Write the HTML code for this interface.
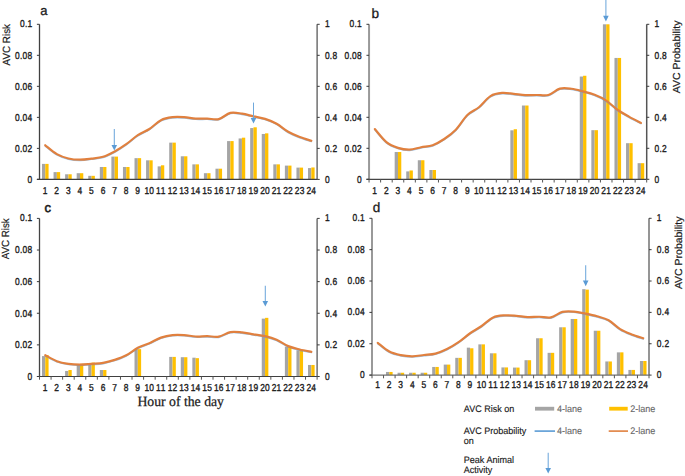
<!DOCTYPE html>
<html><head><meta charset="utf-8"><style>
html,body{margin:0;padding:0;background:#fff;}
body{width:685px;height:476px;overflow:hidden;}
svg{display:block;font-family:"Liberation Sans", sans-serif;text-rendering:geometricPrecision;}
.t{font-size:10.0px;fill:#1a1a1a;stroke:#1a1a1a;stroke-width:0.35px;letter-spacing:0.35px;}
.lg{font-size:9.5px;fill:#1a1a1a;stroke:#1a1a1a;stroke-width:0.15px;}
.lg2{font-size:9.5px;fill:#666;stroke:#666;stroke-width:0.1px;}
</style></head><body>
<svg width="685" height="476" viewBox="0 0 685 476">
<rect width="685" height="476" fill="#fff"/>
<rect x="41.98" y="163.89" width="3.3" height="15.51" fill="#a5a5a5"/>
<rect x="45.28" y="163.89" width="3.3" height="15.51" fill="#ffc000"/>
<rect x="53.55" y="172.11" width="3.3" height="7.29" fill="#a5a5a5"/>
<rect x="56.85" y="172.11" width="3.3" height="7.29" fill="#ffc000"/>
<rect x="65.11" y="174.28" width="3.3" height="5.12" fill="#a5a5a5"/>
<rect x="68.42" y="174.28" width="3.3" height="5.12" fill="#ffc000"/>
<rect x="76.68" y="173.2" width="3.3" height="6.2" fill="#a5a5a5"/>
<rect x="79.98" y="173.2" width="3.3" height="6.2" fill="#ffc000"/>
<rect x="88.25" y="175.83" width="3.3" height="3.57" fill="#a5a5a5"/>
<rect x="91.55" y="175.83" width="3.3" height="3.57" fill="#ffc000"/>
<rect x="99.81" y="166.99" width="3.3" height="12.41" fill="#a5a5a5"/>
<rect x="103.12" y="166.99" width="3.3" height="12.41" fill="#ffc000"/>
<rect x="111.38" y="156.6" width="3.3" height="22.8" fill="#a5a5a5"/>
<rect x="114.68" y="156.6" width="3.3" height="22.8" fill="#ffc000"/>
<rect x="122.95" y="166.99" width="3.3" height="12.41" fill="#a5a5a5"/>
<rect x="126.25" y="166.99" width="3.3" height="12.41" fill="#ffc000"/>
<rect x="134.51" y="158.15" width="3.3" height="21.25" fill="#a5a5a5"/>
<rect x="137.82" y="158.15" width="3.3" height="21.25" fill="#ffc000"/>
<rect x="146.08" y="160.32" width="3.3" height="19.08" fill="#a5a5a5"/>
<rect x="149.38" y="160.32" width="3.3" height="19.08" fill="#ffc000"/>
<rect x="157.65" y="166.37" width="3.3" height="13.03" fill="#a5a5a5"/>
<rect x="160.95" y="165.29" width="3.3" height="14.11" fill="#ffc000"/>
<rect x="169.21" y="142.64" width="3.3" height="36.76" fill="#a5a5a5"/>
<rect x="172.52" y="142.64" width="3.3" height="36.76" fill="#ffc000"/>
<rect x="180.78" y="156.29" width="3.3" height="23.11" fill="#a5a5a5"/>
<rect x="184.08" y="156.29" width="3.3" height="23.11" fill="#ffc000"/>
<rect x="192.35" y="164.36" width="3.3" height="15.04" fill="#a5a5a5"/>
<rect x="195.65" y="164.36" width="3.3" height="15.04" fill="#ffc000"/>
<rect x="203.91" y="173.2" width="3.3" height="6.2" fill="#a5a5a5"/>
<rect x="207.22" y="173.2" width="3.3" height="6.2" fill="#ffc000"/>
<rect x="215.48" y="168.7" width="3.3" height="10.7" fill="#a5a5a5"/>
<rect x="218.78" y="168.7" width="3.3" height="10.7" fill="#ffc000"/>
<rect x="227.05" y="141.09" width="3.3" height="38.31" fill="#a5a5a5"/>
<rect x="230.35" y="141.09" width="3.3" height="38.31" fill="#ffc000"/>
<rect x="238.61" y="138.45" width="3.3" height="40.95" fill="#a5a5a5"/>
<rect x="241.92" y="137.68" width="3.3" height="41.72" fill="#ffc000"/>
<rect x="250.18" y="128.06" width="3.3" height="51.34" fill="#a5a5a5"/>
<rect x="253.48" y="127.29" width="3.3" height="52.11" fill="#ffc000"/>
<rect x="261.75" y="133.96" width="3.3" height="45.44" fill="#a5a5a5"/>
<rect x="265.05" y="133.34" width="3.3" height="46.06" fill="#ffc000"/>
<rect x="273.31" y="164.36" width="3.3" height="15.04" fill="#a5a5a5"/>
<rect x="276.62" y="164.36" width="3.3" height="15.04" fill="#ffc000"/>
<rect x="284.88" y="165.6" width="3.3" height="13.8" fill="#a5a5a5"/>
<rect x="288.18" y="165.6" width="3.3" height="13.8" fill="#ffc000"/>
<rect x="296.45" y="167.61" width="3.3" height="11.79" fill="#a5a5a5"/>
<rect x="299.75" y="167.61" width="3.3" height="11.79" fill="#ffc000"/>
<rect x="308.01" y="168.08" width="3.3" height="11.32" fill="#a5a5a5"/>
<rect x="311.32" y="167.46" width="3.3" height="11.94" fill="#ffc000"/>
<path d="M45.28,145.98 C47.21,147.45 52.99,152.62 56.85,154.82 C60.71,157.02 64.56,158.23 68.42,159.16 C72.27,160.09 76.13,160.38 79.98,160.4 C83.84,160.43 87.69,159.81 91.55,159.32 C95.41,158.83 99.26,158.64 103.12,157.46 C106.97,156.27 110.83,154.28 114.68,152.18 C118.54,150.09 122.39,147.61 126.25,144.89 C130.11,142.18 133.96,138.43 137.82,135.9 C141.67,133.36 145.53,132.2 149.38,129.69 C153.24,127.19 157.09,122.82 160.95,120.85 C164.81,118.89 168.66,118.4 172.52,117.9 C176.37,117.41 180.23,117.67 184.08,117.9 C187.94,118.14 191.79,119.07 195.65,119.3 C199.51,119.53 203.36,119.22 207.22,119.3 C211.07,119.38 214.93,120.72 218.78,119.77 C222.64,118.81 226.49,114.47 230.35,113.56 C234.21,112.66 238.06,113.77 241.92,114.34 C245.77,114.91 249.63,116.1 253.48,116.97 C257.34,117.85 261.19,118.37 265.05,119.61 C268.91,120.85 272.76,122.27 276.62,124.42 C280.47,126.56 284.33,130.26 288.18,132.48 C292.04,134.71 295.89,136.26 299.75,137.76 C303.61,139.26 309.39,140.86 311.32,141.48" fill="none" stroke="#5b9bd5" stroke-width="1.6" stroke-linecap="round" opacity="0.6"/>
<path d="M45.28,145.28 C47.21,146.75 52.99,151.92 56.85,154.12 C60.71,156.32 64.56,157.53 68.42,158.46 C72.27,159.39 76.13,159.68 79.98,159.7 C83.84,159.73 87.69,159.11 91.55,158.62 C95.41,158.13 99.26,157.94 103.12,156.76 C106.97,155.57 110.83,153.58 114.68,151.48 C118.54,149.39 122.39,146.91 126.25,144.19 C130.11,141.48 133.96,137.73 137.82,135.2 C141.67,132.66 145.53,131.5 149.38,128.99 C153.24,126.49 157.09,122.12 160.95,120.15 C164.81,118.19 168.66,117.7 172.52,117.2 C176.37,116.71 180.23,116.97 184.08,117.2 C187.94,117.44 191.79,118.37 195.65,118.6 C199.51,118.83 203.36,118.52 207.22,118.6 C211.07,118.68 214.93,120.02 218.78,119.07 C222.64,118.11 226.49,113.77 230.35,112.86 C234.21,111.96 238.06,113.07 241.92,113.64 C245.77,114.21 249.63,115.4 253.48,116.27 C257.34,117.15 261.19,117.67 265.05,118.91 C268.91,120.15 272.76,121.57 276.62,123.72 C280.47,125.86 284.33,129.56 288.18,131.78 C292.04,134.01 295.89,135.56 299.75,137.06 C303.61,138.56 309.39,140.16 311.32,140.78" fill="none" stroke="#e0803f" stroke-width="2.2" stroke-linecap="round"/>
<line x1="39.5" y1="24.3" x2="39.5" y2="179.4" stroke="#404040" stroke-width="1.3"/>
<line x1="317.1" y1="24.3" x2="317.1" y2="179.4" stroke="#5a5a5a" stroke-width="1.3"/>
<line x1="36.9" y1="179.4" x2="317.1" y2="179.4" stroke="#404040" stroke-width="1.2"/>
<line x1="36.9" y1="179.4" x2="39.5" y2="179.4" stroke="#3a3a3a" stroke-width="1"/>
<line x1="317.1" y1="179.4" x2="319.7" y2="179.4" stroke="#3a3a3a" stroke-width="1"/>
<text transform="translate(32.5,182.8) scale(0.84,1)" text-anchor="end" class="t">0</text>
<text transform="translate(324.9,182.8) scale(0.84,1)" class="t">0</text>
<line x1="36.9" y1="148.38" x2="39.5" y2="148.38" stroke="#3a3a3a" stroke-width="1"/>
<line x1="317.1" y1="148.38" x2="319.7" y2="148.38" stroke="#3a3a3a" stroke-width="1"/>
<text transform="translate(32.5,151.78) scale(0.84,1)" text-anchor="end" class="t">0.02</text>
<text transform="translate(324.9,151.78) scale(0.84,1)" class="t">0.2</text>
<line x1="36.9" y1="117.36" x2="39.5" y2="117.36" stroke="#3a3a3a" stroke-width="1"/>
<line x1="317.1" y1="117.36" x2="319.7" y2="117.36" stroke="#3a3a3a" stroke-width="1"/>
<text transform="translate(32.5,120.76) scale(0.84,1)" text-anchor="end" class="t">0.04</text>
<text transform="translate(324.9,120.76) scale(0.84,1)" class="t">0.4</text>
<line x1="36.9" y1="86.34" x2="39.5" y2="86.34" stroke="#3a3a3a" stroke-width="1"/>
<line x1="317.1" y1="86.34" x2="319.7" y2="86.34" stroke="#3a3a3a" stroke-width="1"/>
<text transform="translate(32.5,89.74) scale(0.84,1)" text-anchor="end" class="t">0.06</text>
<text transform="translate(324.9,89.74) scale(0.84,1)" class="t">0.6</text>
<line x1="36.9" y1="55.32" x2="39.5" y2="55.32" stroke="#3a3a3a" stroke-width="1"/>
<line x1="317.1" y1="55.32" x2="319.7" y2="55.32" stroke="#3a3a3a" stroke-width="1"/>
<text transform="translate(32.5,58.72) scale(0.84,1)" text-anchor="end" class="t">0.08</text>
<text transform="translate(324.9,58.72) scale(0.84,1)" class="t">0.8</text>
<line x1="36.9" y1="24.3" x2="39.5" y2="24.3" stroke="#3a3a3a" stroke-width="1"/>
<line x1="317.1" y1="24.3" x2="319.7" y2="24.3" stroke="#3a3a3a" stroke-width="1"/>
<text transform="translate(32.5,27.2) scale(0.84,1)" text-anchor="end" class="t">0.1</text>
<text transform="translate(324.9,27.2) scale(0.84,1)" class="t">1</text>
<text transform="translate(45.28,193.9) scale(0.84,1)" text-anchor="middle" class="t">1</text>
<text transform="translate(56.85,193.9) scale(0.84,1)" text-anchor="middle" class="t">2</text>
<text transform="translate(68.42,193.9) scale(0.84,1)" text-anchor="middle" class="t">3</text>
<text transform="translate(79.98,193.9) scale(0.84,1)" text-anchor="middle" class="t">4</text>
<text transform="translate(91.55,193.9) scale(0.84,1)" text-anchor="middle" class="t">5</text>
<text transform="translate(103.12,193.9) scale(0.84,1)" text-anchor="middle" class="t">6</text>
<text transform="translate(114.68,193.9) scale(0.84,1)" text-anchor="middle" class="t">7</text>
<text transform="translate(126.25,193.9) scale(0.84,1)" text-anchor="middle" class="t">8</text>
<text transform="translate(137.82,193.9) scale(0.84,1)" text-anchor="middle" class="t">9</text>
<text transform="translate(146.98,193.9) scale(0.84,1)" text-anchor="middle" class="t">1</text>
<text transform="translate(151.78,193.9) scale(0.84,1)" text-anchor="middle" class="t">0</text>
<text transform="translate(158.55,193.9) scale(0.84,1)" text-anchor="middle" class="t">1</text>
<text transform="translate(163.35,193.9) scale(0.84,1)" text-anchor="middle" class="t">1</text>
<text transform="translate(170.12,193.9) scale(0.84,1)" text-anchor="middle" class="t">1</text>
<text transform="translate(174.92,193.9) scale(0.84,1)" text-anchor="middle" class="t">2</text>
<text transform="translate(181.68,193.9) scale(0.84,1)" text-anchor="middle" class="t">1</text>
<text transform="translate(186.48,193.9) scale(0.84,1)" text-anchor="middle" class="t">3</text>
<text transform="translate(193.25,193.9) scale(0.84,1)" text-anchor="middle" class="t">1</text>
<text transform="translate(198.05,193.9) scale(0.84,1)" text-anchor="middle" class="t">4</text>
<text transform="translate(204.82,193.9) scale(0.84,1)" text-anchor="middle" class="t">1</text>
<text transform="translate(209.62,193.9) scale(0.84,1)" text-anchor="middle" class="t">5</text>
<text transform="translate(216.38,193.9) scale(0.84,1)" text-anchor="middle" class="t">1</text>
<text transform="translate(221.18,193.9) scale(0.84,1)" text-anchor="middle" class="t">6</text>
<text transform="translate(227.95,193.9) scale(0.84,1)" text-anchor="middle" class="t">1</text>
<text transform="translate(232.75,193.9) scale(0.84,1)" text-anchor="middle" class="t">7</text>
<text transform="translate(239.52,193.9) scale(0.84,1)" text-anchor="middle" class="t">1</text>
<text transform="translate(244.32,193.9) scale(0.84,1)" text-anchor="middle" class="t">8</text>
<text transform="translate(251.08,193.9) scale(0.84,1)" text-anchor="middle" class="t">1</text>
<text transform="translate(255.88,193.9) scale(0.84,1)" text-anchor="middle" class="t">9</text>
<text transform="translate(262.65,193.9) scale(0.84,1)" text-anchor="middle" class="t">2</text>
<text transform="translate(267.45,193.9) scale(0.84,1)" text-anchor="middle" class="t">0</text>
<text transform="translate(274.22,193.9) scale(0.84,1)" text-anchor="middle" class="t">2</text>
<text transform="translate(279.02,193.9) scale(0.84,1)" text-anchor="middle" class="t">1</text>
<text transform="translate(285.78,193.9) scale(0.84,1)" text-anchor="middle" class="t">2</text>
<text transform="translate(290.58,193.9) scale(0.84,1)" text-anchor="middle" class="t">2</text>
<text transform="translate(297.35,193.9) scale(0.84,1)" text-anchor="middle" class="t">2</text>
<text transform="translate(302.15,193.9) scale(0.84,1)" text-anchor="middle" class="t">3</text>
<text transform="translate(308.92,193.9) scale(0.84,1)" text-anchor="middle" class="t">2</text>
<text transform="translate(313.72,193.9) scale(0.84,1)" text-anchor="middle" class="t">4</text>
<line x1="114.3" y1="129" x2="114.3" y2="145.5" stroke="#6fa8dc" stroke-width="1.05"/><path d="M111.5,145 L117.1,145 L114.3,150.6 Z" fill="#5b9bd5"/>
<line x1="253.5" y1="102.6" x2="253.5" y2="118.5" stroke="#6fa8dc" stroke-width="1.05"/><path d="M250.7,118 L256.3,118 L253.5,123.6 Z" fill="#5b9bd5"/>
<rect x="394.67" y="152.02" width="3.31" height="27.28" fill="#a5a5a5"/>
<rect x="397.97" y="152.02" width="3.31" height="27.28" fill="#ffc000"/>
<rect x="406.24" y="171.4" width="3.31" height="7.91" fill="#a5a5a5"/>
<rect x="409.54" y="170.47" width="3.31" height="8.84" fill="#ffc000"/>
<rect x="417.8" y="160.24" width="3.31" height="19.07" fill="#a5a5a5"/>
<rect x="421.11" y="160.24" width="3.31" height="19.07" fill="#ffc000"/>
<rect x="429.37" y="170" width="3.31" height="9.3" fill="#a5a5a5"/>
<rect x="432.68" y="170" width="3.31" height="9.3" fill="#ffc000"/>
<rect x="510.35" y="130.32" width="3.31" height="48.98" fill="#a5a5a5"/>
<rect x="513.66" y="129.24" width="3.31" height="50.07" fill="#ffc000"/>
<rect x="521.92" y="105.52" width="3.31" height="73.78" fill="#a5a5a5"/>
<rect x="525.23" y="105.52" width="3.31" height="73.78" fill="#ffc000"/>
<rect x="579.77" y="76.54" width="3.31" height="102.77" fill="#a5a5a5"/>
<rect x="583.07" y="75.76" width="3.31" height="103.54" fill="#ffc000"/>
<rect x="591.34" y="130.17" width="3.31" height="49.13" fill="#a5a5a5"/>
<rect x="594.64" y="130.17" width="3.31" height="49.13" fill="#ffc000"/>
<rect x="602.9" y="24.3" width="3.31" height="155" fill="#a5a5a5"/>
<rect x="606.21" y="24.3" width="3.31" height="155" fill="#ffc000"/>
<rect x="614.47" y="57.94" width="3.31" height="121.36" fill="#a5a5a5"/>
<rect x="617.78" y="57.94" width="3.31" height="121.36" fill="#ffc000"/>
<rect x="626.04" y="143.19" width="3.31" height="36.12" fill="#a5a5a5"/>
<rect x="629.35" y="143.19" width="3.31" height="36.12" fill="#ffc000"/>
<rect x="637.61" y="163.18" width="3.31" height="16.12" fill="#a5a5a5"/>
<rect x="640.92" y="163.18" width="3.31" height="16.12" fill="#ffc000"/>
<path d="M374.83,129.78 C376.76,131.95 382.55,139.67 386.4,142.8 C390.26,145.93 394.12,147.27 397.97,148.53 C401.83,149.8 405.68,150.5 409.54,150.4 C413.4,150.29 417.25,148.66 421.11,147.91 C424.97,147.17 428.82,147.27 432.68,145.9 C436.53,144.53 440.39,142.28 444.25,139.7 C448.1,137.12 451.96,134.4 455.82,130.4 C459.67,126.4 463.53,119.42 467.38,115.68 C471.24,111.93 475.1,111.08 478.95,107.93 C482.81,104.77 486.67,99.14 490.52,96.77 C494.38,94.39 498.23,94.03 502.09,93.67 C505.95,93.3 509.8,94.23 513.66,94.6 C517.52,94.96 521.37,95.65 525.23,95.84 C529.08,96.02 532.94,95.71 536.8,95.68 C540.65,95.65 544.51,96.74 548.37,95.68 C552.22,94.62 556.08,90.36 559.93,89.33 C563.79,88.29 567.65,89.02 571.5,89.48 C575.36,89.95 579.22,91.11 583.07,92.12 C586.93,93.12 590.78,94 594.64,95.53 C598.5,97.05 602.35,98.73 606.21,101.26 C610.07,103.79 613.92,108 617.78,110.72 C621.63,113.43 625.49,115.39 629.35,117.54 C633.2,119.68 638.99,122.57 640.92,123.58" fill="none" stroke="#5b9bd5" stroke-width="1.6" stroke-linecap="round" opacity="0.6"/>
<path d="M374.83,129.08 C376.76,131.25 382.55,138.97 386.4,142.1 C390.26,145.23 394.12,146.57 397.97,147.84 C401.83,149.1 405.68,149.8 409.54,149.7 C413.4,149.59 417.25,147.96 421.11,147.22 C424.97,146.47 428.82,146.57 432.68,145.2 C436.53,143.83 440.39,141.58 444.25,139 C448.1,136.42 451.96,133.7 455.82,129.7 C459.67,125.7 463.53,118.72 467.38,114.98 C471.24,111.23 475.1,110.38 478.95,107.23 C482.81,104.07 486.67,98.44 490.52,96.07 C494.38,93.69 498.23,93.33 502.09,92.97 C505.95,92.6 509.8,93.53 513.66,93.9 C517.52,94.26 521.37,94.95 525.23,95.14 C529.08,95.32 532.94,95.01 536.8,94.98 C540.65,94.95 544.51,96.04 548.37,94.98 C552.22,93.92 556.08,89.66 559.93,88.62 C563.79,87.59 567.65,88.32 571.5,88.78 C575.36,89.25 579.22,90.41 583.07,91.42 C586.93,92.42 590.78,93.3 594.64,94.83 C598.5,96.35 602.35,98.03 606.21,100.56 C610.07,103.09 613.92,107.3 617.78,110.02 C621.63,112.73 625.49,114.69 629.35,116.84 C633.2,118.98 638.99,121.87 640.92,122.88" fill="none" stroke="#e0803f" stroke-width="2.2" stroke-linecap="round"/>
<line x1="369.05" y1="24.3" x2="369.05" y2="179.3" stroke="#999999" stroke-width="2.0"/>
<line x1="646.7" y1="24.3" x2="646.7" y2="179.3" stroke="#555555" stroke-width="1.5"/>
<line x1="366.45" y1="179.3" x2="646.7" y2="179.3" stroke="#444444" stroke-width="1.2"/>
<line x1="366.45" y1="179.3" x2="369.05" y2="179.3" stroke="#3a3a3a" stroke-width="1"/>
<line x1="646.7" y1="179.3" x2="649.3" y2="179.3" stroke="#3a3a3a" stroke-width="1"/>
<text transform="translate(362.05,182.7) scale(0.84,1)" text-anchor="end" class="t">0</text>
<text transform="translate(654.5,182.7) scale(0.84,1)" class="t">0</text>
<line x1="366.45" y1="148.3" x2="369.05" y2="148.3" stroke="#3a3a3a" stroke-width="1"/>
<line x1="646.7" y1="148.3" x2="649.3" y2="148.3" stroke="#3a3a3a" stroke-width="1"/>
<text transform="translate(362.05,151.7) scale(0.84,1)" text-anchor="end" class="t">0.02</text>
<text transform="translate(654.5,151.7) scale(0.84,1)" class="t">0.2</text>
<line x1="366.45" y1="117.3" x2="369.05" y2="117.3" stroke="#3a3a3a" stroke-width="1"/>
<line x1="646.7" y1="117.3" x2="649.3" y2="117.3" stroke="#3a3a3a" stroke-width="1"/>
<text transform="translate(362.05,120.7) scale(0.84,1)" text-anchor="end" class="t">0.04</text>
<text transform="translate(654.5,120.7) scale(0.84,1)" class="t">0.4</text>
<line x1="366.45" y1="86.3" x2="369.05" y2="86.3" stroke="#3a3a3a" stroke-width="1"/>
<line x1="646.7" y1="86.3" x2="649.3" y2="86.3" stroke="#3a3a3a" stroke-width="1"/>
<text transform="translate(362.05,89.7) scale(0.84,1)" text-anchor="end" class="t">0.06</text>
<text transform="translate(654.5,89.7) scale(0.84,1)" class="t">0.6</text>
<line x1="366.45" y1="55.3" x2="369.05" y2="55.3" stroke="#3a3a3a" stroke-width="1"/>
<line x1="646.7" y1="55.3" x2="649.3" y2="55.3" stroke="#3a3a3a" stroke-width="1"/>
<text transform="translate(362.05,58.7) scale(0.84,1)" text-anchor="end" class="t">0.08</text>
<text transform="translate(654.5,58.7) scale(0.84,1)" class="t">0.8</text>
<line x1="366.45" y1="24.3" x2="369.05" y2="24.3" stroke="#3a3a3a" stroke-width="1"/>
<line x1="646.7" y1="24.3" x2="649.3" y2="24.3" stroke="#3a3a3a" stroke-width="1"/>
<text transform="translate(362.05,27.2) scale(0.84,1)" text-anchor="end" class="t">0.1</text>
<text transform="translate(654.5,27.2) scale(0.84,1)" class="t">1</text>
<line x1="369.05" y1="179.3" x2="369.05" y2="182.5" stroke="#555" stroke-width="1"/>
<line x1="380.62" y1="179.3" x2="380.62" y2="182.5" stroke="#555" stroke-width="1"/>
<line x1="392.19" y1="179.3" x2="392.19" y2="182.5" stroke="#555" stroke-width="1"/>
<line x1="403.76" y1="179.3" x2="403.76" y2="182.5" stroke="#555" stroke-width="1"/>
<line x1="415.33" y1="179.3" x2="415.33" y2="182.5" stroke="#555" stroke-width="1"/>
<line x1="426.89" y1="179.3" x2="426.89" y2="182.5" stroke="#555" stroke-width="1"/>
<line x1="438.46" y1="179.3" x2="438.46" y2="182.5" stroke="#555" stroke-width="1"/>
<line x1="450.03" y1="179.3" x2="450.03" y2="182.5" stroke="#555" stroke-width="1"/>
<line x1="461.6" y1="179.3" x2="461.6" y2="182.5" stroke="#555" stroke-width="1"/>
<line x1="473.17" y1="179.3" x2="473.17" y2="182.5" stroke="#555" stroke-width="1"/>
<line x1="484.74" y1="179.3" x2="484.74" y2="182.5" stroke="#555" stroke-width="1"/>
<line x1="496.31" y1="179.3" x2="496.31" y2="182.5" stroke="#555" stroke-width="1"/>
<line x1="507.88" y1="179.3" x2="507.88" y2="182.5" stroke="#555" stroke-width="1"/>
<line x1="519.44" y1="179.3" x2="519.44" y2="182.5" stroke="#555" stroke-width="1"/>
<line x1="531.01" y1="179.3" x2="531.01" y2="182.5" stroke="#555" stroke-width="1"/>
<line x1="542.58" y1="179.3" x2="542.58" y2="182.5" stroke="#555" stroke-width="1"/>
<line x1="554.15" y1="179.3" x2="554.15" y2="182.5" stroke="#555" stroke-width="1"/>
<line x1="565.72" y1="179.3" x2="565.72" y2="182.5" stroke="#555" stroke-width="1"/>
<line x1="577.29" y1="179.3" x2="577.29" y2="182.5" stroke="#555" stroke-width="1"/>
<line x1="588.86" y1="179.3" x2="588.86" y2="182.5" stroke="#555" stroke-width="1"/>
<line x1="600.43" y1="179.3" x2="600.43" y2="182.5" stroke="#555" stroke-width="1"/>
<line x1="611.99" y1="179.3" x2="611.99" y2="182.5" stroke="#555" stroke-width="1"/>
<line x1="623.56" y1="179.3" x2="623.56" y2="182.5" stroke="#555" stroke-width="1"/>
<line x1="635.13" y1="179.3" x2="635.13" y2="182.5" stroke="#555" stroke-width="1"/>
<line x1="646.7" y1="179.3" x2="646.7" y2="182.5" stroke="#555" stroke-width="1"/>
<text transform="translate(374.83,193.9) scale(0.84,1)" text-anchor="middle" class="t">1</text>
<text transform="translate(386.4,193.9) scale(0.84,1)" text-anchor="middle" class="t">2</text>
<text transform="translate(397.97,193.9) scale(0.84,1)" text-anchor="middle" class="t">3</text>
<text transform="translate(409.54,193.9) scale(0.84,1)" text-anchor="middle" class="t">4</text>
<text transform="translate(421.11,193.9) scale(0.84,1)" text-anchor="middle" class="t">5</text>
<text transform="translate(432.68,193.9) scale(0.84,1)" text-anchor="middle" class="t">6</text>
<text transform="translate(444.25,193.9) scale(0.84,1)" text-anchor="middle" class="t">7</text>
<text transform="translate(455.82,193.9) scale(0.84,1)" text-anchor="middle" class="t">8</text>
<text transform="translate(467.38,193.9) scale(0.84,1)" text-anchor="middle" class="t">9</text>
<text transform="translate(476.55,193.9) scale(0.84,1)" text-anchor="middle" class="t">1</text>
<text transform="translate(481.35,193.9) scale(0.84,1)" text-anchor="middle" class="t">0</text>
<text transform="translate(488.12,193.9) scale(0.84,1)" text-anchor="middle" class="t">1</text>
<text transform="translate(492.92,193.9) scale(0.84,1)" text-anchor="middle" class="t">1</text>
<text transform="translate(499.69,193.9) scale(0.84,1)" text-anchor="middle" class="t">1</text>
<text transform="translate(504.49,193.9) scale(0.84,1)" text-anchor="middle" class="t">2</text>
<text transform="translate(511.26,193.9) scale(0.84,1)" text-anchor="middle" class="t">1</text>
<text transform="translate(516.06,193.9) scale(0.84,1)" text-anchor="middle" class="t">3</text>
<text transform="translate(522.83,193.9) scale(0.84,1)" text-anchor="middle" class="t">1</text>
<text transform="translate(527.63,193.9) scale(0.84,1)" text-anchor="middle" class="t">4</text>
<text transform="translate(534.4,193.9) scale(0.84,1)" text-anchor="middle" class="t">1</text>
<text transform="translate(539.2,193.9) scale(0.84,1)" text-anchor="middle" class="t">5</text>
<text transform="translate(545.97,193.9) scale(0.84,1)" text-anchor="middle" class="t">1</text>
<text transform="translate(550.77,193.9) scale(0.84,1)" text-anchor="middle" class="t">6</text>
<text transform="translate(557.53,193.9) scale(0.84,1)" text-anchor="middle" class="t">1</text>
<text transform="translate(562.33,193.9) scale(0.84,1)" text-anchor="middle" class="t">7</text>
<text transform="translate(569.1,193.9) scale(0.84,1)" text-anchor="middle" class="t">1</text>
<text transform="translate(573.9,193.9) scale(0.84,1)" text-anchor="middle" class="t">8</text>
<text transform="translate(580.67,193.9) scale(0.84,1)" text-anchor="middle" class="t">1</text>
<text transform="translate(585.47,193.9) scale(0.84,1)" text-anchor="middle" class="t">9</text>
<text transform="translate(592.24,193.9) scale(0.84,1)" text-anchor="middle" class="t">2</text>
<text transform="translate(597.04,193.9) scale(0.84,1)" text-anchor="middle" class="t">0</text>
<text transform="translate(603.81,193.9) scale(0.84,1)" text-anchor="middle" class="t">2</text>
<text transform="translate(608.61,193.9) scale(0.84,1)" text-anchor="middle" class="t">1</text>
<text transform="translate(615.38,193.9) scale(0.84,1)" text-anchor="middle" class="t">2</text>
<text transform="translate(620.18,193.9) scale(0.84,1)" text-anchor="middle" class="t">2</text>
<text transform="translate(626.95,193.9) scale(0.84,1)" text-anchor="middle" class="t">2</text>
<text transform="translate(631.75,193.9) scale(0.84,1)" text-anchor="middle" class="t">3</text>
<text transform="translate(638.52,193.9) scale(0.84,1)" text-anchor="middle" class="t">2</text>
<text transform="translate(643.32,193.9) scale(0.84,1)" text-anchor="middle" class="t">4</text>
<line x1="605.9" y1="-1" x2="605.9" y2="16.3" stroke="#6fa8dc" stroke-width="1.05"/><path d="M603.1,15.8 L608.7,15.8 L605.9,21.4 Z" fill="#5b9bd5"/>
<rect x="41.98" y="356.11" width="3.3" height="20.39" fill="#a5a5a5"/>
<rect x="45.28" y="355" width="3.3" height="21.5" fill="#ffc000"/>
<rect x="65.11" y="370.97" width="3.3" height="5.53" fill="#a5a5a5"/>
<rect x="68.42" y="370.02" width="3.3" height="6.48" fill="#ffc000"/>
<rect x="76.68" y="364.48" width="3.3" height="12.02" fill="#a5a5a5"/>
<rect x="79.98" y="363.85" width="3.3" height="12.65" fill="#ffc000"/>
<rect x="88.25" y="363.38" width="3.3" height="13.12" fill="#a5a5a5"/>
<rect x="91.55" y="362.59" width="3.3" height="13.91" fill="#ffc000"/>
<rect x="99.81" y="370.02" width="3.3" height="6.48" fill="#a5a5a5"/>
<rect x="103.12" y="370.02" width="3.3" height="6.48" fill="#ffc000"/>
<rect x="134.51" y="349.15" width="3.3" height="27.35" fill="#a5a5a5"/>
<rect x="137.82" y="349.15" width="3.3" height="27.35" fill="#ffc000"/>
<rect x="169.21" y="356.9" width="3.3" height="19.6" fill="#a5a5a5"/>
<rect x="172.52" y="356.9" width="3.3" height="19.6" fill="#ffc000"/>
<rect x="180.78" y="357.21" width="3.3" height="19.29" fill="#a5a5a5"/>
<rect x="184.08" y="357.21" width="3.3" height="19.29" fill="#ffc000"/>
<rect x="192.35" y="357.69" width="3.3" height="18.81" fill="#a5a5a5"/>
<rect x="195.65" y="358.16" width="3.3" height="18.34" fill="#ffc000"/>
<rect x="261.75" y="318.64" width="3.3" height="57.86" fill="#a5a5a5"/>
<rect x="265.05" y="317.84" width="3.3" height="58.66" fill="#ffc000"/>
<rect x="284.88" y="346.62" width="3.3" height="29.88" fill="#a5a5a5"/>
<rect x="288.18" y="346.14" width="3.3" height="30.36" fill="#ffc000"/>
<rect x="296.45" y="350.26" width="3.3" height="26.24" fill="#a5a5a5"/>
<rect x="299.75" y="349.78" width="3.3" height="26.72" fill="#ffc000"/>
<rect x="308.01" y="364.96" width="3.3" height="11.54" fill="#a5a5a5"/>
<rect x="311.32" y="364.96" width="3.3" height="11.54" fill="#ffc000"/>
<path d="M45.28,355.86 C47.21,356.86 52.99,360.42 56.85,361.86 C60.71,363.31 64.56,363.97 68.42,364.55 C72.27,365.13 76.13,365.34 79.98,365.34 C83.84,365.34 87.69,364.84 91.55,364.55 C95.41,364.26 99.26,364.26 103.12,363.6 C106.97,362.94 110.83,361.86 114.68,360.6 C118.54,359.33 122.39,358.04 126.25,356.01 C130.11,353.99 133.96,350.45 137.82,348.43 C141.67,346.4 145.53,345.53 149.38,343.84 C153.24,342.15 157.09,339.65 160.95,338.31 C164.81,336.96 168.66,336.2 172.52,335.78 C176.37,335.36 180.23,335.54 184.08,335.78 C187.94,336.01 191.79,337.02 195.65,337.2 C199.51,337.39 203.36,336.86 207.22,336.88 C211.07,336.91 214.93,338.04 218.78,337.36 C222.64,336.67 226.49,333.49 230.35,332.77 C234.21,332.06 238.06,332.72 241.92,333.09 C245.77,333.46 249.63,334.35 253.48,334.99 C257.34,335.62 261.19,335.96 265.05,336.88 C268.91,337.81 272.76,338.86 276.62,340.52 C280.47,342.18 284.33,345.24 288.18,346.84 C292.04,348.45 295.89,349.22 299.75,350.16 C303.61,351.11 309.39,352.14 311.32,352.54" fill="none" stroke="#5b9bd5" stroke-width="1.6" stroke-linecap="round" opacity="0.6"/>
<path d="M45.28,355.16 C47.21,356.16 52.99,359.72 56.85,361.16 C60.71,362.61 64.56,363.27 68.42,363.85 C72.27,364.43 76.13,364.64 79.98,364.64 C83.84,364.64 87.69,364.14 91.55,363.85 C95.41,363.56 99.26,363.56 103.12,362.9 C106.97,362.24 110.83,361.16 114.68,359.9 C118.54,358.63 122.39,357.34 126.25,355.31 C130.11,353.29 133.96,349.75 137.82,347.73 C141.67,345.7 145.53,344.83 149.38,343.14 C153.24,341.45 157.09,338.95 160.95,337.61 C164.81,336.26 168.66,335.5 172.52,335.08 C176.37,334.66 180.23,334.84 184.08,335.08 C187.94,335.31 191.79,336.32 195.65,336.5 C199.51,336.69 203.36,336.16 207.22,336.18 C211.07,336.21 214.93,337.34 218.78,336.66 C222.64,335.97 226.49,332.79 230.35,332.07 C234.21,331.36 238.06,332.02 241.92,332.39 C245.77,332.76 249.63,333.65 253.48,334.29 C257.34,334.92 261.19,335.26 265.05,336.18 C268.91,337.11 272.76,338.16 276.62,339.82 C280.47,341.48 284.33,344.54 288.18,346.14 C292.04,347.75 295.89,348.52 299.75,349.46 C303.61,350.41 309.39,351.44 311.32,351.84" fill="none" stroke="#e0803f" stroke-width="2.2" stroke-linecap="round"/>
<line x1="39.5" y1="218.4" x2="39.5" y2="376.5" stroke="#444444" stroke-width="1.3"/>
<line x1="317.1" y1="218.4" x2="317.1" y2="376.5" stroke="#5a5a5a" stroke-width="1.3"/>
<line x1="36.9" y1="376.5" x2="317.1" y2="376.5" stroke="#404040" stroke-width="1.2"/>
<line x1="36.9" y1="376.5" x2="39.5" y2="376.5" stroke="#3a3a3a" stroke-width="1"/>
<line x1="317.1" y1="376.5" x2="319.7" y2="376.5" stroke="#3a3a3a" stroke-width="1"/>
<text transform="translate(32.5,379.9) scale(0.84,1)" text-anchor="end" class="t">0</text>
<text transform="translate(324.9,379.9) scale(0.84,1)" class="t">0</text>
<line x1="36.9" y1="344.88" x2="39.5" y2="344.88" stroke="#3a3a3a" stroke-width="1"/>
<line x1="317.1" y1="344.88" x2="319.7" y2="344.88" stroke="#3a3a3a" stroke-width="1"/>
<text transform="translate(32.5,348.28) scale(0.84,1)" text-anchor="end" class="t">0.02</text>
<text transform="translate(324.9,348.28) scale(0.84,1)" class="t">0.2</text>
<line x1="36.9" y1="313.26" x2="39.5" y2="313.26" stroke="#3a3a3a" stroke-width="1"/>
<line x1="317.1" y1="313.26" x2="319.7" y2="313.26" stroke="#3a3a3a" stroke-width="1"/>
<text transform="translate(32.5,316.66) scale(0.84,1)" text-anchor="end" class="t">0.04</text>
<text transform="translate(324.9,316.66) scale(0.84,1)" class="t">0.4</text>
<line x1="36.9" y1="281.64" x2="39.5" y2="281.64" stroke="#3a3a3a" stroke-width="1"/>
<line x1="317.1" y1="281.64" x2="319.7" y2="281.64" stroke="#3a3a3a" stroke-width="1"/>
<text transform="translate(32.5,285.04) scale(0.84,1)" text-anchor="end" class="t">0.06</text>
<text transform="translate(324.9,285.04) scale(0.84,1)" class="t">0.6</text>
<line x1="36.9" y1="250.02" x2="39.5" y2="250.02" stroke="#3a3a3a" stroke-width="1"/>
<line x1="317.1" y1="250.02" x2="319.7" y2="250.02" stroke="#3a3a3a" stroke-width="1"/>
<text transform="translate(32.5,253.42) scale(0.84,1)" text-anchor="end" class="t">0.08</text>
<text transform="translate(324.9,253.42) scale(0.84,1)" class="t">0.8</text>
<line x1="36.9" y1="218.4" x2="39.5" y2="218.4" stroke="#3a3a3a" stroke-width="1"/>
<line x1="317.1" y1="218.4" x2="319.7" y2="218.4" stroke="#3a3a3a" stroke-width="1"/>
<text transform="translate(32.5,221.3) scale(0.84,1)" text-anchor="end" class="t">0.1</text>
<text transform="translate(324.9,221.3) scale(0.84,1)" class="t">1</text>
<line x1="39.5" y1="376.5" x2="39.5" y2="379.7" stroke="#555" stroke-width="1"/>
<line x1="51.07" y1="376.5" x2="51.07" y2="379.7" stroke="#555" stroke-width="1"/>
<line x1="62.63" y1="376.5" x2="62.63" y2="379.7" stroke="#555" stroke-width="1"/>
<line x1="74.2" y1="376.5" x2="74.2" y2="379.7" stroke="#555" stroke-width="1"/>
<line x1="85.77" y1="376.5" x2="85.77" y2="379.7" stroke="#555" stroke-width="1"/>
<line x1="97.33" y1="376.5" x2="97.33" y2="379.7" stroke="#555" stroke-width="1"/>
<line x1="108.9" y1="376.5" x2="108.9" y2="379.7" stroke="#555" stroke-width="1"/>
<line x1="120.47" y1="376.5" x2="120.47" y2="379.7" stroke="#555" stroke-width="1"/>
<line x1="132.03" y1="376.5" x2="132.03" y2="379.7" stroke="#555" stroke-width="1"/>
<line x1="143.6" y1="376.5" x2="143.6" y2="379.7" stroke="#555" stroke-width="1"/>
<line x1="155.17" y1="376.5" x2="155.17" y2="379.7" stroke="#555" stroke-width="1"/>
<line x1="166.73" y1="376.5" x2="166.73" y2="379.7" stroke="#555" stroke-width="1"/>
<line x1="178.3" y1="376.5" x2="178.3" y2="379.7" stroke="#555" stroke-width="1"/>
<line x1="189.87" y1="376.5" x2="189.87" y2="379.7" stroke="#555" stroke-width="1"/>
<line x1="201.43" y1="376.5" x2="201.43" y2="379.7" stroke="#555" stroke-width="1"/>
<line x1="213" y1="376.5" x2="213" y2="379.7" stroke="#555" stroke-width="1"/>
<line x1="224.57" y1="376.5" x2="224.57" y2="379.7" stroke="#555" stroke-width="1"/>
<line x1="236.13" y1="376.5" x2="236.13" y2="379.7" stroke="#555" stroke-width="1"/>
<line x1="247.7" y1="376.5" x2="247.7" y2="379.7" stroke="#555" stroke-width="1"/>
<line x1="259.27" y1="376.5" x2="259.27" y2="379.7" stroke="#555" stroke-width="1"/>
<line x1="270.83" y1="376.5" x2="270.83" y2="379.7" stroke="#555" stroke-width="1"/>
<line x1="282.4" y1="376.5" x2="282.4" y2="379.7" stroke="#555" stroke-width="1"/>
<line x1="293.97" y1="376.5" x2="293.97" y2="379.7" stroke="#555" stroke-width="1"/>
<line x1="305.53" y1="376.5" x2="305.53" y2="379.7" stroke="#555" stroke-width="1"/>
<line x1="317.1" y1="376.5" x2="317.1" y2="379.7" stroke="#555" stroke-width="1"/>
<text transform="translate(45.28,390.7) scale(0.84,1)" text-anchor="middle" class="t">1</text>
<text transform="translate(56.85,390.7) scale(0.84,1)" text-anchor="middle" class="t">2</text>
<text transform="translate(68.42,390.7) scale(0.84,1)" text-anchor="middle" class="t">3</text>
<text transform="translate(79.98,390.7) scale(0.84,1)" text-anchor="middle" class="t">4</text>
<text transform="translate(91.55,390.7) scale(0.84,1)" text-anchor="middle" class="t">5</text>
<text transform="translate(103.12,390.7) scale(0.84,1)" text-anchor="middle" class="t">6</text>
<text transform="translate(114.68,390.7) scale(0.84,1)" text-anchor="middle" class="t">7</text>
<text transform="translate(126.25,390.7) scale(0.84,1)" text-anchor="middle" class="t">8</text>
<text transform="translate(137.82,390.7) scale(0.84,1)" text-anchor="middle" class="t">9</text>
<text transform="translate(146.98,390.7) scale(0.84,1)" text-anchor="middle" class="t">1</text>
<text transform="translate(151.78,390.7) scale(0.84,1)" text-anchor="middle" class="t">0</text>
<text transform="translate(158.55,390.7) scale(0.84,1)" text-anchor="middle" class="t">1</text>
<text transform="translate(163.35,390.7) scale(0.84,1)" text-anchor="middle" class="t">1</text>
<text transform="translate(170.12,390.7) scale(0.84,1)" text-anchor="middle" class="t">1</text>
<text transform="translate(174.92,390.7) scale(0.84,1)" text-anchor="middle" class="t">2</text>
<text transform="translate(181.68,390.7) scale(0.84,1)" text-anchor="middle" class="t">1</text>
<text transform="translate(186.48,390.7) scale(0.84,1)" text-anchor="middle" class="t">3</text>
<text transform="translate(193.25,390.7) scale(0.84,1)" text-anchor="middle" class="t">1</text>
<text transform="translate(198.05,390.7) scale(0.84,1)" text-anchor="middle" class="t">4</text>
<text transform="translate(204.82,390.7) scale(0.84,1)" text-anchor="middle" class="t">1</text>
<text transform="translate(209.62,390.7) scale(0.84,1)" text-anchor="middle" class="t">5</text>
<text transform="translate(216.38,390.7) scale(0.84,1)" text-anchor="middle" class="t">1</text>
<text transform="translate(221.18,390.7) scale(0.84,1)" text-anchor="middle" class="t">6</text>
<text transform="translate(227.95,390.7) scale(0.84,1)" text-anchor="middle" class="t">1</text>
<text transform="translate(232.75,390.7) scale(0.84,1)" text-anchor="middle" class="t">7</text>
<text transform="translate(239.52,390.7) scale(0.84,1)" text-anchor="middle" class="t">1</text>
<text transform="translate(244.32,390.7) scale(0.84,1)" text-anchor="middle" class="t">8</text>
<text transform="translate(251.08,390.7) scale(0.84,1)" text-anchor="middle" class="t">1</text>
<text transform="translate(255.88,390.7) scale(0.84,1)" text-anchor="middle" class="t">9</text>
<text transform="translate(262.65,390.7) scale(0.84,1)" text-anchor="middle" class="t">2</text>
<text transform="translate(267.45,390.7) scale(0.84,1)" text-anchor="middle" class="t">0</text>
<text transform="translate(274.22,390.7) scale(0.84,1)" text-anchor="middle" class="t">2</text>
<text transform="translate(279.02,390.7) scale(0.84,1)" text-anchor="middle" class="t">1</text>
<text transform="translate(285.78,390.7) scale(0.84,1)" text-anchor="middle" class="t">2</text>
<text transform="translate(290.58,390.7) scale(0.84,1)" text-anchor="middle" class="t">2</text>
<text transform="translate(297.35,390.7) scale(0.84,1)" text-anchor="middle" class="t">2</text>
<text transform="translate(302.15,390.7) scale(0.84,1)" text-anchor="middle" class="t">3</text>
<text transform="translate(308.92,390.7) scale(0.84,1)" text-anchor="middle" class="t">2</text>
<text transform="translate(313.72,390.7) scale(0.84,1)" text-anchor="middle" class="t">4</text>
<line x1="265.3" y1="285.7" x2="265.3" y2="301.5" stroke="#6fa8dc" stroke-width="1.05"/><path d="M262.5,301 L268.1,301 L265.3,306.6 Z" fill="#5b9bd5"/>
<rect x="386.01" y="371.96" width="3.3" height="3.14" fill="#a5a5a5"/>
<rect x="389.31" y="371.96" width="3.3" height="3.14" fill="#ffc000"/>
<rect x="397.56" y="372.75" width="3.3" height="2.35" fill="#a5a5a5"/>
<rect x="400.85" y="372.75" width="3.3" height="2.35" fill="#ffc000"/>
<rect x="409.1" y="372.75" width="3.3" height="2.35" fill="#a5a5a5"/>
<rect x="412.4" y="372.75" width="3.3" height="2.35" fill="#ffc000"/>
<rect x="420.64" y="372.75" width="3.3" height="2.35" fill="#a5a5a5"/>
<rect x="423.94" y="372.75" width="3.3" height="2.35" fill="#ffc000"/>
<rect x="432.18" y="366.95" width="3.3" height="8.15" fill="#a5a5a5"/>
<rect x="435.48" y="366.95" width="3.3" height="8.15" fill="#ffc000"/>
<rect x="443.72" y="364.59" width="3.3" height="10.51" fill="#a5a5a5"/>
<rect x="447.02" y="364.59" width="3.3" height="10.51" fill="#ffc000"/>
<rect x="455.26" y="357.85" width="3.3" height="17.25" fill="#a5a5a5"/>
<rect x="458.56" y="357.85" width="3.3" height="17.25" fill="#ffc000"/>
<rect x="466.81" y="347.66" width="3.3" height="27.44" fill="#a5a5a5"/>
<rect x="470.1" y="348.29" width="3.3" height="26.81" fill="#ffc000"/>
<rect x="478.35" y="344.37" width="3.3" height="30.73" fill="#a5a5a5"/>
<rect x="481.65" y="344.37" width="3.3" height="30.73" fill="#ffc000"/>
<rect x="489.89" y="353.3" width="3.3" height="21.8" fill="#a5a5a5"/>
<rect x="493.19" y="353.3" width="3.3" height="21.8" fill="#ffc000"/>
<rect x="501.43" y="367.42" width="3.3" height="7.68" fill="#a5a5a5"/>
<rect x="504.73" y="367.42" width="3.3" height="7.68" fill="#ffc000"/>
<rect x="512.97" y="367.57" width="3.3" height="7.53" fill="#a5a5a5"/>
<rect x="516.27" y="367.57" width="3.3" height="7.53" fill="#ffc000"/>
<rect x="524.51" y="360.2" width="3.3" height="14.9" fill="#a5a5a5"/>
<rect x="527.81" y="360.2" width="3.3" height="14.9" fill="#ffc000"/>
<rect x="536.06" y="338.25" width="3.3" height="36.85" fill="#a5a5a5"/>
<rect x="539.35" y="338.25" width="3.3" height="36.85" fill="#ffc000"/>
<rect x="547.6" y="352.83" width="3.3" height="22.27" fill="#a5a5a5"/>
<rect x="550.9" y="352.83" width="3.3" height="22.27" fill="#ffc000"/>
<rect x="559.14" y="327.28" width="3.3" height="47.82" fill="#a5a5a5"/>
<rect x="562.44" y="327.28" width="3.3" height="47.82" fill="#ffc000"/>
<rect x="570.68" y="318.97" width="3.3" height="56.13" fill="#a5a5a5"/>
<rect x="573.98" y="318.97" width="3.3" height="56.13" fill="#ffc000"/>
<rect x="582.22" y="289.17" width="3.3" height="85.93" fill="#a5a5a5"/>
<rect x="585.52" y="289.64" width="3.3" height="85.46" fill="#ffc000"/>
<rect x="593.76" y="330.73" width="3.3" height="44.37" fill="#a5a5a5"/>
<rect x="597.06" y="330.73" width="3.3" height="44.37" fill="#ffc000"/>
<rect x="605.31" y="361.46" width="3.3" height="13.64" fill="#a5a5a5"/>
<rect x="608.6" y="361.46" width="3.3" height="13.64" fill="#ffc000"/>
<rect x="616.85" y="352.36" width="3.3" height="22.74" fill="#a5a5a5"/>
<rect x="620.15" y="352.36" width="3.3" height="22.74" fill="#ffc000"/>
<rect x="628.39" y="369.93" width="3.3" height="5.17" fill="#a5a5a5"/>
<rect x="631.69" y="369.93" width="3.3" height="5.17" fill="#ffc000"/>
<rect x="639.93" y="360.99" width="3.3" height="14.11" fill="#a5a5a5"/>
<rect x="643.23" y="360.99" width="3.3" height="14.11" fill="#ffc000"/>
<path d="M377.77,343.5 C379.69,344.96 385.47,350.22 389.31,352.28 C393.16,354.34 397.01,355.1 400.85,355.89 C404.7,356.67 408.55,357.01 412.4,356.98 C416.24,356.96 420.09,356.17 423.94,355.73 C427.78,355.29 431.63,355.31 435.48,354.32 C439.33,353.33 443.17,351.68 447.02,349.77 C450.87,347.86 454.72,345.51 458.56,342.87 C462.41,340.23 466.26,336.63 470.1,333.93 C473.95,331.24 477.8,329.36 481.65,326.72 C485.49,324.08 489.34,319.87 493.19,318.1 C497.03,316.32 500.88,316.32 504.73,316.06 C508.58,315.8 512.42,316.24 516.27,316.53 C520.12,316.82 523.97,317.63 527.81,317.78 C531.66,317.94 535.51,317.42 539.35,317.47 C543.2,317.52 547.05,318.91 550.9,318.1 C554.74,317.29 558.59,313.58 562.44,312.61 C566.28,311.64 570.13,312.01 573.98,312.3 C577.83,312.58 581.67,313.55 585.52,314.33 C589.37,315.12 593.22,315.9 597.06,317 C600.91,318.1 604.76,318.78 608.6,320.92 C612.45,323.06 616.3,327.48 620.15,329.86 C623.99,332.24 627.84,333.67 631.69,335.19 C635.53,336.7 641.31,338.32 643.23,338.95" fill="none" stroke="#5b9bd5" stroke-width="1.6" stroke-linecap="round" opacity="0.6"/>
<path d="M377.77,342.8 C379.69,344.26 385.47,349.52 389.31,351.58 C393.16,353.64 397.01,354.4 400.85,355.19 C404.7,355.97 408.55,356.31 412.4,356.28 C416.24,356.26 420.09,355.47 423.94,355.03 C427.78,354.59 431.63,354.61 435.48,353.62 C439.33,352.63 443.17,350.98 447.02,349.07 C450.87,347.16 454.72,344.81 458.56,342.17 C462.41,339.53 466.26,335.93 470.1,333.23 C473.95,330.54 477.8,328.66 481.65,326.02 C485.49,323.38 489.34,319.17 493.19,317.4 C497.03,315.62 500.88,315.62 504.73,315.36 C508.58,315.1 512.42,315.54 516.27,315.83 C520.12,316.12 523.97,316.93 527.81,317.08 C531.66,317.24 535.51,316.72 539.35,316.77 C543.2,316.82 547.05,318.21 550.9,317.4 C554.74,316.59 558.59,312.88 562.44,311.91 C566.28,310.94 570.13,311.31 573.98,311.6 C577.83,311.88 581.67,312.85 585.52,313.63 C589.37,314.42 593.22,315.2 597.06,316.3 C600.91,317.4 604.76,318.08 608.6,320.22 C612.45,322.36 616.3,326.78 620.15,329.16 C623.99,331.54 627.84,332.97 631.69,334.49 C635.53,336 641.31,337.62 643.23,338.25" fill="none" stroke="#e0803f" stroke-width="2.2" stroke-linecap="round"/>
<line x1="372" y1="218.3" x2="372" y2="375.1" stroke="#999999" stroke-width="2.0"/>
<line x1="649" y1="218.3" x2="649" y2="375.1" stroke="#8a8a8a" stroke-width="1.8"/>
<line x1="369.4" y1="375.1" x2="649" y2="375.1" stroke="#707070" stroke-width="1.2"/>
<line x1="369.4" y1="375.1" x2="372" y2="375.1" stroke="#3a3a3a" stroke-width="1"/>
<line x1="649" y1="375.1" x2="651.6" y2="375.1" stroke="#3a3a3a" stroke-width="1"/>
<text transform="translate(365,378) scale(0.84,1)" text-anchor="end" class="t">0</text>
<text transform="translate(656.8,378) scale(0.84,1)" class="t">0</text>
<line x1="369.4" y1="343.74" x2="372" y2="343.74" stroke="#3a3a3a" stroke-width="1"/>
<line x1="649" y1="343.74" x2="651.6" y2="343.74" stroke="#3a3a3a" stroke-width="1"/>
<text transform="translate(365,346.64) scale(0.84,1)" text-anchor="end" class="t">0.02</text>
<text transform="translate(656.8,346.64) scale(0.84,1)" class="t">0.2</text>
<line x1="369.4" y1="312.38" x2="372" y2="312.38" stroke="#3a3a3a" stroke-width="1"/>
<line x1="649" y1="312.38" x2="651.6" y2="312.38" stroke="#3a3a3a" stroke-width="1"/>
<text transform="translate(365,315.28) scale(0.84,1)" text-anchor="end" class="t">0.04</text>
<text transform="translate(656.8,315.28) scale(0.84,1)" class="t">0.4</text>
<line x1="369.4" y1="281.02" x2="372" y2="281.02" stroke="#3a3a3a" stroke-width="1"/>
<line x1="649" y1="281.02" x2="651.6" y2="281.02" stroke="#3a3a3a" stroke-width="1"/>
<text transform="translate(365,283.92) scale(0.84,1)" text-anchor="end" class="t">0.06</text>
<text transform="translate(656.8,283.92) scale(0.84,1)" class="t">0.6</text>
<line x1="369.4" y1="249.66" x2="372" y2="249.66" stroke="#3a3a3a" stroke-width="1"/>
<line x1="649" y1="249.66" x2="651.6" y2="249.66" stroke="#3a3a3a" stroke-width="1"/>
<text transform="translate(365,252.56) scale(0.84,1)" text-anchor="end" class="t">0.08</text>
<text transform="translate(656.8,252.56) scale(0.84,1)" class="t">0.8</text>
<line x1="369.4" y1="218.3" x2="372" y2="218.3" stroke="#3a3a3a" stroke-width="1"/>
<line x1="649" y1="218.3" x2="651.6" y2="218.3" stroke="#3a3a3a" stroke-width="1"/>
<text transform="translate(365,220.7) scale(0.84,1)" text-anchor="end" class="t">0.1</text>
<text transform="translate(656.8,220.7) scale(0.84,1)" class="t">1</text>
<line x1="372" y1="375.1" x2="372" y2="378.3" stroke="#555" stroke-width="1"/>
<line x1="383.54" y1="375.1" x2="383.54" y2="378.3" stroke="#555" stroke-width="1"/>
<line x1="395.08" y1="375.1" x2="395.08" y2="378.3" stroke="#555" stroke-width="1"/>
<line x1="406.62" y1="375.1" x2="406.62" y2="378.3" stroke="#555" stroke-width="1"/>
<line x1="418.17" y1="375.1" x2="418.17" y2="378.3" stroke="#555" stroke-width="1"/>
<line x1="429.71" y1="375.1" x2="429.71" y2="378.3" stroke="#555" stroke-width="1"/>
<line x1="441.25" y1="375.1" x2="441.25" y2="378.3" stroke="#555" stroke-width="1"/>
<line x1="452.79" y1="375.1" x2="452.79" y2="378.3" stroke="#555" stroke-width="1"/>
<line x1="464.33" y1="375.1" x2="464.33" y2="378.3" stroke="#555" stroke-width="1"/>
<line x1="475.88" y1="375.1" x2="475.88" y2="378.3" stroke="#555" stroke-width="1"/>
<line x1="487.42" y1="375.1" x2="487.42" y2="378.3" stroke="#555" stroke-width="1"/>
<line x1="498.96" y1="375.1" x2="498.96" y2="378.3" stroke="#555" stroke-width="1"/>
<line x1="510.5" y1="375.1" x2="510.5" y2="378.3" stroke="#555" stroke-width="1"/>
<line x1="522.04" y1="375.1" x2="522.04" y2="378.3" stroke="#555" stroke-width="1"/>
<line x1="533.58" y1="375.1" x2="533.58" y2="378.3" stroke="#555" stroke-width="1"/>
<line x1="545.12" y1="375.1" x2="545.12" y2="378.3" stroke="#555" stroke-width="1"/>
<line x1="556.67" y1="375.1" x2="556.67" y2="378.3" stroke="#555" stroke-width="1"/>
<line x1="568.21" y1="375.1" x2="568.21" y2="378.3" stroke="#555" stroke-width="1"/>
<line x1="579.75" y1="375.1" x2="579.75" y2="378.3" stroke="#555" stroke-width="1"/>
<line x1="591.29" y1="375.1" x2="591.29" y2="378.3" stroke="#555" stroke-width="1"/>
<line x1="602.83" y1="375.1" x2="602.83" y2="378.3" stroke="#555" stroke-width="1"/>
<line x1="614.38" y1="375.1" x2="614.38" y2="378.3" stroke="#555" stroke-width="1"/>
<line x1="625.92" y1="375.1" x2="625.92" y2="378.3" stroke="#555" stroke-width="1"/>
<line x1="637.46" y1="375.1" x2="637.46" y2="378.3" stroke="#555" stroke-width="1"/>
<line x1="649" y1="375.1" x2="649" y2="378.3" stroke="#555" stroke-width="1"/>
<text transform="translate(377.77,388.4) scale(0.84,1)" text-anchor="middle" class="t">1</text>
<text transform="translate(389.31,388.4) scale(0.84,1)" text-anchor="middle" class="t">2</text>
<text transform="translate(400.85,388.4) scale(0.84,1)" text-anchor="middle" class="t">3</text>
<text transform="translate(412.4,388.4) scale(0.84,1)" text-anchor="middle" class="t">4</text>
<text transform="translate(423.94,388.4) scale(0.84,1)" text-anchor="middle" class="t">5</text>
<text transform="translate(435.48,388.4) scale(0.84,1)" text-anchor="middle" class="t">6</text>
<text transform="translate(447.02,388.4) scale(0.84,1)" text-anchor="middle" class="t">7</text>
<text transform="translate(458.56,388.4) scale(0.84,1)" text-anchor="middle" class="t">8</text>
<text transform="translate(470.1,388.4) scale(0.84,1)" text-anchor="middle" class="t">9</text>
<text transform="translate(479.25,388.4) scale(0.84,1)" text-anchor="middle" class="t">1</text>
<text transform="translate(484.05,388.4) scale(0.84,1)" text-anchor="middle" class="t">0</text>
<text transform="translate(490.79,388.4) scale(0.84,1)" text-anchor="middle" class="t">1</text>
<text transform="translate(495.59,388.4) scale(0.84,1)" text-anchor="middle" class="t">1</text>
<text transform="translate(502.33,388.4) scale(0.84,1)" text-anchor="middle" class="t">1</text>
<text transform="translate(507.13,388.4) scale(0.84,1)" text-anchor="middle" class="t">2</text>
<text transform="translate(513.87,388.4) scale(0.84,1)" text-anchor="middle" class="t">1</text>
<text transform="translate(518.67,388.4) scale(0.84,1)" text-anchor="middle" class="t">3</text>
<text transform="translate(525.41,388.4) scale(0.84,1)" text-anchor="middle" class="t">1</text>
<text transform="translate(530.21,388.4) scale(0.84,1)" text-anchor="middle" class="t">4</text>
<text transform="translate(536.95,388.4) scale(0.84,1)" text-anchor="middle" class="t">1</text>
<text transform="translate(541.75,388.4) scale(0.84,1)" text-anchor="middle" class="t">5</text>
<text transform="translate(548.5,388.4) scale(0.84,1)" text-anchor="middle" class="t">1</text>
<text transform="translate(553.3,388.4) scale(0.84,1)" text-anchor="middle" class="t">6</text>
<text transform="translate(560.04,388.4) scale(0.84,1)" text-anchor="middle" class="t">1</text>
<text transform="translate(564.84,388.4) scale(0.84,1)" text-anchor="middle" class="t">7</text>
<text transform="translate(571.58,388.4) scale(0.84,1)" text-anchor="middle" class="t">1</text>
<text transform="translate(576.38,388.4) scale(0.84,1)" text-anchor="middle" class="t">8</text>
<text transform="translate(583.12,388.4) scale(0.84,1)" text-anchor="middle" class="t">1</text>
<text transform="translate(587.92,388.4) scale(0.84,1)" text-anchor="middle" class="t">9</text>
<text transform="translate(594.66,388.4) scale(0.84,1)" text-anchor="middle" class="t">2</text>
<text transform="translate(599.46,388.4) scale(0.84,1)" text-anchor="middle" class="t">0</text>
<text transform="translate(606.2,388.4) scale(0.84,1)" text-anchor="middle" class="t">2</text>
<text transform="translate(611,388.4) scale(0.84,1)" text-anchor="middle" class="t">1</text>
<text transform="translate(617.75,388.4) scale(0.84,1)" text-anchor="middle" class="t">2</text>
<text transform="translate(622.55,388.4) scale(0.84,1)" text-anchor="middle" class="t">2</text>
<text transform="translate(629.29,388.4) scale(0.84,1)" text-anchor="middle" class="t">2</text>
<text transform="translate(634.09,388.4) scale(0.84,1)" text-anchor="middle" class="t">3</text>
<text transform="translate(640.83,388.4) scale(0.84,1)" text-anchor="middle" class="t">2</text>
<text transform="translate(645.63,388.4) scale(0.84,1)" text-anchor="middle" class="t">4</text>
<line x1="585.7" y1="265.2" x2="585.7" y2="281.1" stroke="#6fa8dc" stroke-width="1.05"/><path d="M582.9,280.6 L588.5,280.6 L585.7,286.2 Z" fill="#5b9bd5"/>
<text x="40.3" y="15.4" font-size="13" font-weight="normal" fill="#1a1a1a" stroke="#1a1a1a" stroke-width="0.3">a</text>
<text x="371.6" y="17.6" font-size="13.6" font-weight="normal" fill="#1a1a1a" stroke="#1a1a1a" stroke-width="0.3">b</text>
<text x="44.6" y="211.8" font-size="13" font-weight="normal" fill="#1a1a1a" stroke="#1a1a1a" stroke-width="0.55">c</text>
<text x="372.8" y="211.5" font-size="13.5" font-weight="normal" fill="#1a1a1a" stroke="#1a1a1a" stroke-width="0.3">d</text>
<text transform="translate(9.9,65.4) rotate(-90)" font-size="10.4" textLength="41.4" lengthAdjust="spacingAndGlyphs" fill="#1a1a1a" stroke="#1a1a1a" stroke-width="0.2">AVC Risk</text>
<text transform="translate(9.3,259.2) rotate(-90)" font-size="10.4" textLength="40.8" lengthAdjust="spacingAndGlyphs" fill="#1a1a1a" stroke="#1a1a1a" stroke-width="0.2">AVC Risk</text>
<text transform="translate(679.8,93.2) rotate(-90)" font-size="10.2" textLength="72.6" lengthAdjust="spacingAndGlyphs" fill="#1a1a1a" stroke="#1a1a1a" stroke-width="0.2">AVC Probability</text>
<text transform="translate(682.3,289.1) rotate(-90)" font-size="10.2" textLength="72.6" lengthAdjust="spacingAndGlyphs" fill="#1a1a1a" stroke="#1a1a1a" stroke-width="0.2">AVC Probability</text>
<text x="137.4" y="405.7" font-family="'Liberation Serif', serif" font-size="14.1" textLength="86.6" lengthAdjust="spacingAndGlyphs" fill="#1a1a1a" stroke="#1a1a1a" stroke-width="0.25">Hour of the day</text>
<text transform="translate(463.8,412.1) scale(0.95,1)" class="lg">AVC Risk on</text>
<text transform="translate(463.8,434) scale(0.95,1)" class="lg">AVC Probability</text>
<text transform="translate(463.8,443.8) scale(0.95,1)" class="lg">on</text>
<text transform="translate(463.8,463.1) scale(0.95,1)" class="lg">Peak Animal</text>
<text transform="translate(463.8,472.7) scale(0.95,1)" class="lg">Activity</text>
<rect x="535" y="406.8" width="19.2" height="3.8" fill="#a5a5a5"/>
<rect x="609.2" y="406.8" width="18.5" height="3.8" fill="#ffc000"/>
<line x1="534.6" y1="431.1" x2="555" y2="431.1" stroke="#5b9bd5" stroke-width="1.6"/>
<line x1="608.7" y1="431.1" x2="628" y2="431.1" stroke="#e0803f" stroke-width="1.6"/>
<text transform="translate(556.9,412.1) scale(0.95,1)" class="lg2">4-lane</text>
<text transform="translate(630.2,412.1) scale(0.95,1)" class="lg2">2-lane</text>
<text transform="translate(556.9,434) scale(0.95,1)" class="lg2">4-lane</text>
<text transform="translate(630.2,434) scale(0.95,1)" class="lg2">2-lane</text>
<line x1="548.2" y1="452.8" x2="548.2" y2="468.5" stroke="#6fa8dc" stroke-width="1.05"/><path d="M545.4,468 L551,468 L548.2,473.6 Z" fill="#5b9bd5"/>
</svg>
</body></html>
